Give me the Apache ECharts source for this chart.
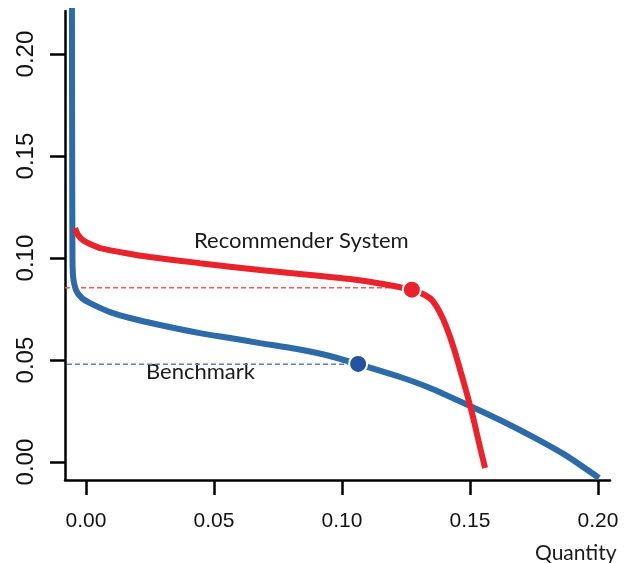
<!DOCTYPE html>
<html>
<head>
<meta charset="utf-8">
<script src="https://cdn.jsdelivr.net/npm/echarts@6/dist/echarts.min.js"></script>
<style>
html,body{margin:0;padding:0;background:#fff;}
#chart{width:631px;height:563px;}
</style>
</head>
<body>
<div id="chart"></div>
<script>
// Tick values
const xTicks = [0, 0.05, 0.10, 0.15, 0.20];
const yTicks = [0, 0.05, 0.10, 0.15, 0.20];

// Recommender System curve [quantity, value]
const recommender = [
  [-0.0043, 0.1147], [-0.0031, 0.1113], [-0.0012, 0.1088], [0.0016, 0.1069],
  [0.0055, 0.1049], [0.0152, 0.1025], [0.0250, 0.1005], [0.0445, 0.0975],
  [0.0680, 0.0941], [0.0836, 0.0922], [0.1031, 0.0897], [0.1160, 0.0873],
  [0.1273, 0.0843], [0.1324, 0.0819], [0.1355, 0.0789], [0.1395, 0.0701],
  [0.1434, 0.0569], [0.1473, 0.0402], [0.1508, 0.0240], [0.1539, 0.0074],
  [0.1559, -0.0029]
];

// Benchmark curve [quantity, value]
const benchmark = [
  [-0.0055, 0.2300], [-0.0054, 0.1500], [-0.0053, 0.1039], [-0.0051, 0.0917],
  [-0.0039, 0.0843], [-0.0016, 0.0804], [0.0016, 0.0779], [0.0094, 0.0735],
  [0.0172, 0.0706], [0.0289, 0.0672], [0.0445, 0.0632], [0.0563, 0.0608],
  [0.0680, 0.0583], [0.0824, 0.0554], [0.0953, 0.0520], [0.1063, 0.0480],
  [0.1227, 0.0417], [0.1344, 0.0363], [0.1500, 0.0275], [0.1617, 0.0206],
  [0.1746, 0.0123], [0.1879, 0.0029], [0.2004, -0.0078]
];

// Highlighted points
const recommenderPoint = [0.1273, 0.0845];
const benchmarkPoint = [0.1063, 0.0481];

// Reference (dashed) lines
const recommenderRef = [[-0.0113, 0.0855], [0.1273, 0.0855]];
const benchmarkRef = [[-0.0105, 0.0480], [0.1063, 0.0480]];

// Annotations
const recommenderLabel = 'Recommender System';
const benchmarkLabel = 'Benchmark';
const xName = 'Quantity';

const RED = '#e8232b';
const BLUE = '#2c6aa8';

const chart = echarts.init(document.getElementById('chart'), null, {renderer: 'canvas'});
chart.setOption({
  animation: false,
  backgroundColor: '#fff',
  grid: {left: 65, right: 21, top: 11, bottom: 83},
  xAxis: {
    type: 'value', min: -0.0082, max: 0.2047,
    splitLine: {show: false},
    axisLine: {show: true, onZero: false, lineStyle: {color: '#000', width: 2.5}},
    axisTick: {show: true, customValues: xTicks, length: 15, lineStyle: {color: '#000', width: 2.5}},
    axisLabel: {customValues: xTicks, fontSize: 21, fontFamily: 'Liberation Sans', color: '#111', margin: 31,
      formatter: v => v.toFixed(2)}
  },
  yAxis: {
    type: 'value', min: -0.0088, max: 0.2211,
    splitLine: {show: false},
    axisLine: {show: true, onZero: false, lineStyle: {color: '#000', width: 2.5}},
    axisTick: {show: true, customValues: yTicks, length: 15, lineStyle: {color: '#000', width: 2.5}},
    axisLabel: {customValues: yTicks, rotate: 90, fontSize: 24, fontFamily: 'Liberation Sans', color: '#111', margin: 27,
      formatter: v => v.toFixed(2)}
  },
  series: [
    {type: 'line', data: recommenderRef, showSymbol: false, clip: false, z: 1,
      lineStyle: {color: '#f05a5a', width: 1.5, type: [5, 3]}},
    {type: 'line', data: benchmarkRef, showSymbol: false, clip: false, z: 1,
      lineStyle: {color: '#5b7fc2', width: 1.5, type: [5, 3]}},
    {type: 'line', data: benchmark, showSymbol: false, smooth: 0.2, clip: true, z: 2,
      lineStyle: {color: BLUE, width: 6, cap: 'butt'}},
    {type: 'line', data: recommender, showSymbol: false, smooth: 0.2, clip: true, z: 3,
      lineStyle: {color: RED, width: 6, cap: 'butt'}},
    {type: 'scatter', data: [recommenderPoint], symbolSize: 18, z: 5,
      itemStyle: {color: RED, borderColor: '#fff', borderWidth: 2, opacity: 1}},
    {type: 'scatter', data: [benchmarkPoint], symbolSize: 18, z: 5,
      itemStyle: {color: '#2453a0', borderColor: '#fff', borderWidth: 2, opacity: 1}}
  ],
  graphic: [
    {type: 'text', left: 194, top: 230, style: {text: recommenderLabel, font: '22px Lato', fill: '#1a1a1a'}},
    {type: 'text', left: 146, top: 361, style: {text: benchmarkLabel, font: '22px Lato', fill: '#1a1a1a'}},
    {type: 'text', left: 535, top: 543, style: {text: xName, font: '21px Lato', fill: '#1a1a1a'}}
  ]
});
</script>
</body>
</html>
